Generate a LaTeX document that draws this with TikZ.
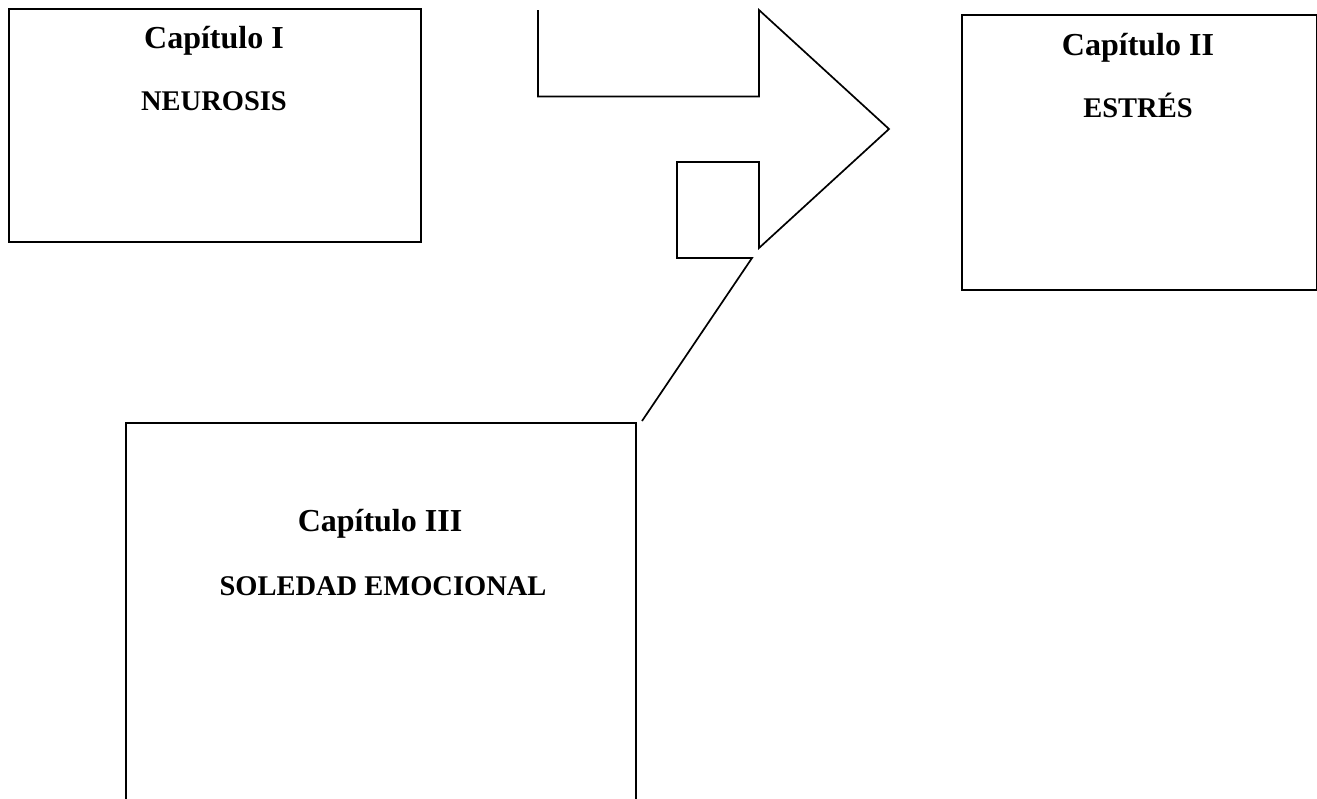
\documentclass[tikz,border=0pt]{standalone}
\usepackage{fontspec}
\setmainfont{Liberation Serif}
\begin{document}
\begin{tikzpicture}[x=1pt,y=-1pt,
  box/.style={draw=black, line width=2.2pt, fill=none, inner sep=0pt, anchor=north west},
  headtext/.style={anchor=base, inner sep=0pt, font=\fontsize{32}{38}\selectfont\bfseries},
  subtext/.style={anchor=base, inner sep=0pt, font=\fontsize{28.5}{34}\selectfont\bfseries},
  arrowline/.style={draw=black, line width=1.7pt, line join=miter}]
\useasboundingbox (0,0) rectangle (1317,798);
\clip (0,0) rectangle (1317,798);
% boxes
\node[box, minimum width=412pt, minimum height=233pt] (b1) at (8,8) {};
\node[box, minimum width=355pt, minimum height=275pt] (b2) at (961,14) {};
\node[box, minimum width=510pt, minimum height=420pt] (b3) at (125,422) {};
% texts
\node[headtext] (t1) at (214,48) {Capítulo I};
\node[subtext] (s1) at (214,110) {NEUROSIS};
\node[headtext] (t2) at (1138,55) {Capítulo II};
\node[subtext] (s2) at (1138,117) {ESTRÉS};
\node[headtext] (t3) at (380,531) {Capítulo III};
\node[subtext] (s3) at (383,595) {SOLEDAD EMOCIONAL};
% arrow callout shape
\coordinate (a1) at (538,10);
\coordinate (a2) at (538,96.5);
\coordinate (a3) at (759,96.5);
\coordinate (a4) at (759,10);
\coordinate (a5) at (889,129);
\coordinate (a6) at (759,248);
\coordinate (a7) at (759,162);
\coordinate (a8) at (677,162);
\coordinate (a9) at (677,258);
\coordinate (a10) at (752,258);
\coordinate (a11) at (642,421);
\draw[arrowline] (a1) -- (a2) -- (a3) -- (a4) -- (a5) -- (a6) -- (a7) -- (a8) -- (a9) -- (a10) -- (a11);
\end{tikzpicture}
\end{document}
